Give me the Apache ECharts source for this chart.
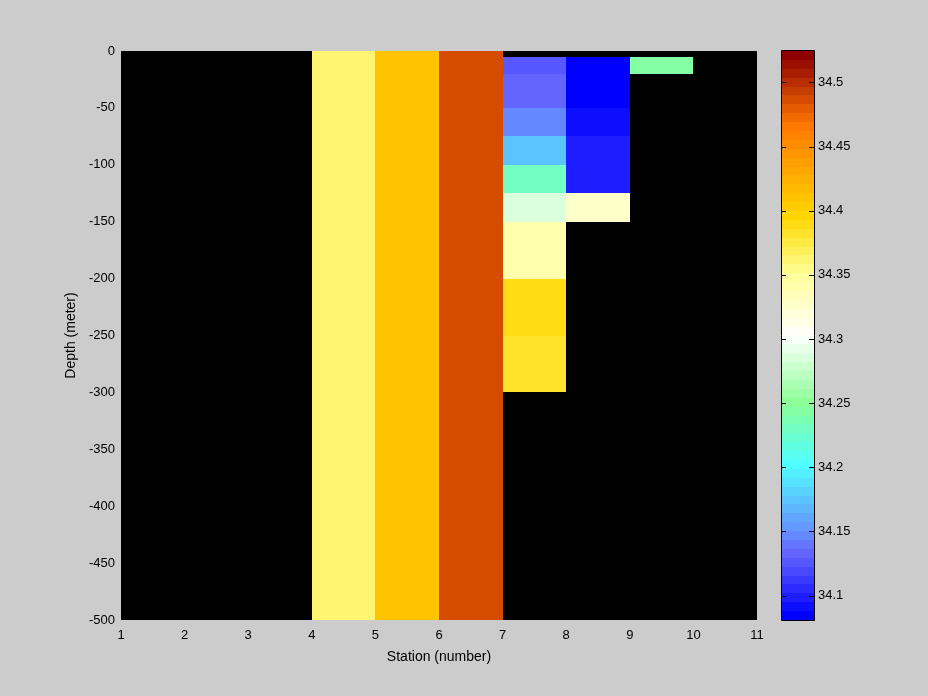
<!DOCTYPE html>
<html>
<head>
<meta charset="utf-8">
<script src="https://cdn.jsdelivr.net/npm/echarts@6/dist/echarts.min.js"></script>
<style>
html,body{margin:0;padding:0;background:#cccccc;}
#chart{width:928px;height:696px;}
</style>
</head>
<body>
<div id="chart"></div>
<script>
// ---- data ----
const stationTicks = [1, 2, 3, 4, 5, 6, 7, 8, 9, 10, 11];
const depthTicks = [0, -50, -100, -150, -200, -250, -300, -350, -400, -450, -500];
// each cell: station column start (column spans station..station+1), depth top, depth bottom (meters), salinity value
const cellStation = [4, 5, 6, 9, 8, 8, 8, 8, 7, 7, 7, 7, 7, 7, 7, 7, 7];
const cellTop     = [0, 0, 0, 5, 5, 50, 75, 125, 5, 20, 50, 75, 100, 125, 150, 200, 250];
const cellBottom  = [500, 500, 500, 20, 50, 75, 125, 150, 20, 50, 75, 100, 125, 150, 200, 250, 300];
const cellValue   = [34.363, 34.408, 34.488, 34.247, 34.083, 34.090, 34.097, 34.326,
                     34.128, 34.132, 34.146, 34.174, 34.229, 34.286, 34.344, 34.387, 34.381];
const colorMin = 34.081;
const colorMax = 34.5245;
const colorLevels = 64;
const colorbarTicks = [34.1, 34.15, 34.2, 34.25, 34.3, 34.35, 34.4, 34.45, 34.5];

// ---- colormap (style) ----
const cmapStops = [
  [0.000, [0, 0, 255]],
  [0.110, [100, 100, 255]],
  [0.156, [100, 150, 255]],
  [0.270, [80, 255, 255]],
  [0.380, [140, 255, 150]],
  [0.500, [255, 255, 255]],
  [0.610, [255, 255, 150]],
  [0.711, [255, 215, 0]],
  [0.875, [255, 120, 0]],
  [1.000, [140, 0, 0]]
];
function interp(f) {
  for (let i = 0; i < cmapStops.length - 1; i++) {
    const a = cmapStops[i], b = cmapStops[i + 1];
    if (f <= b[0]) {
      const t = (f - a[0]) / (b[0] - a[0]);
      const c = a[1].map((v, k) => Math.round(v + (b[1][k] - v) * t));
      return 'rgb(' + c.join(',') + ')';
    }
  }
  return 'rgb(' + cmapStops[cmapStops.length - 1][1].join(',') + ')';
}
const palette = [];
for (let i = 0; i < colorLevels; i++) palette.push(interp(i / (colorLevels - 1)));
function colorFor(v) {
  let idx = Math.floor((v - colorMin) / (colorMax - colorMin) * colorLevels);
  idx = Math.max(0, Math.min(colorLevels - 1, idx));
  return palette[idx];
}

const cellData = cellStation.map((s, i) => [s, s + 1, -cellTop[i], -cellBottom[i], cellValue[i]]);
const barStep = (colorMax - colorMin) / colorLevels;
const barData = palette.map((c, i) => [0, 1, colorMin + i * barStep, colorMin + (i + 1) * barStep, i]);

function rectItem(api, fill) {
  const p0 = api.coord([api.value(0), api.value(2)]);
  const p1 = api.coord([api.value(1), api.value(3)]);
  const x0 = Math.round(Math.min(p0[0], p1[0])), x1 = Math.round(Math.max(p0[0], p1[0]));
  const y0 = Math.round(Math.min(p0[1], p1[1])), y1 = Math.round(Math.max(p0[1], p1[1]));
  return {
    type: 'rect',
    shape: { x: x0, y: y0, width: x1 - x0, height: y1 - y0 },
    style: { fill: fill, stroke: null }
  };
}

const FONT = 'Liberation Sans';
const chart = echarts.init(document.getElementById('chart'), null, { renderer: 'canvas' });
chart.setOption({
  backgroundColor: '#cccccc',
  animation: false,
  textStyle: { fontFamily: FONT, color: '#000' },
  grid: [
    { left: 121, top: 51, width: 636, height: 569, show: true, backgroundColor: '#000000', borderWidth: 0 },
    { left: 782, top: 51, width: 32, height: 569, show: false }
  ],
  xAxis: [
    {
      gridIndex: 0, type: 'value', min: stationTicks[0], max: stationTicks[stationTicks.length - 1], interval: 1,
      name: 'Station (number)', nameLocation: 'middle', nameGap: 30,
      nameTextStyle: { fontSize: 14, fontFamily: FONT, color: '#000' },
      axisLine: { show: false }, axisTick: { show: false }, splitLine: { show: false },
      axisLabel: { fontSize: 13, fontFamily: FONT, color: '#000', margin: 9 }
    },
    { gridIndex: 1, type: 'value', min: 0, max: 1, show: false }
  ],
  yAxis: [
    {
      gridIndex: 0, type: 'value', min: depthTicks[depthTicks.length - 1], max: depthTicks[0], interval: 50,
      name: 'Depth (meter)', nameLocation: 'middle', nameGap: 41, nameRotate: 90,
      nameTextStyle: { fontSize: 14, fontFamily: FONT, color: '#000' },
      axisLine: { show: false }, axisTick: { show: false }, splitLine: { show: false },
      axisLabel: { fontSize: 13, fontFamily: FONT, color: '#000', margin: 6 }
    },
    {
      gridIndex: 1, type: 'value', min: colorMin, max: colorMax, splitNumber: 9, position: 'right',
      axisLine: { show: false }, axisTick: { show: false }, splitLine: { show: false },
      axisLabel: {
        fontSize: 13, fontFamily: FONT, color: '#000', margin: 4, showMinLabel: false, showMaxLabel: false,
        formatter: function (v) {
          const hit = colorbarTicks.some(t => Math.abs(t - v) < 1e-6);
          return hit ? String(+v.toFixed(2)) : '';
        }
      }
    }
  ],
  series: [
    {
      type: 'custom', xAxisIndex: 0, yAxisIndex: 0,
      encode: { x: [0, 1], y: [2, 3] },
      data: cellData,
      renderItem: function (params, api) { return rectItem(api, colorFor(api.value(4))); }
    },
    {
      type: 'custom', xAxisIndex: 1, yAxisIndex: 1, z: 2,
      encode: { x: [0, 1], y: [2, 3] },
      data: barData,
      renderItem: function (params, api) { return rectItem(api, palette[api.value(4)]); }
    },
    {
      // colorbar tick marks (both sides, pointing inward)
      type: 'custom', xAxisIndex: 1, yAxisIndex: 1, z: 5,
      encode: { y: 0 },
      data: colorbarTicks.map(v => [v]),
      renderItem: function (params, api) {
        const pl = api.coord([0, api.value(0)]);
        const pr = api.coord([1, api.value(0)]);
        const y = Math.round(pl[1]) + 0.5;
        const xl = Math.round(pl[0]), xr = Math.round(pr[0]);
        return {
          type: 'group',
          children: [
            { type: 'line', shape: { x1: xl, y1: y, x2: xl + 4, y2: y }, style: { stroke: '#000', lineWidth: 1 } },
            { type: 'line', shape: { x1: xr - 5, y1: y, x2: xr, y2: y }, style: { stroke: '#000', lineWidth: 1 } }
          ]
        };
      }
    },
    {
      // colorbar frame
      type: 'custom', xAxisIndex: 1, yAxisIndex: 1, z: 6,
      encode: { x: [0, 1], y: [2, 3] },
      data: [[0, 1, colorMin, colorMax]],
      renderItem: function (params, api) {
        const p0 = api.coord([api.value(0), api.value(3)]);
        const p1 = api.coord([api.value(1), api.value(2)]);
        const x0 = Math.round(p0[0]) - 0.5, y0 = Math.round(p0[1]) - 0.5;
        const x1 = Math.round(p1[0]) + 0.5, y1 = Math.round(p1[1]) + 0.5;
        return {
          type: 'rect',
          shape: { x: x0, y: y0, width: x1 - x0, height: y1 - y0 },
          style: { fill: null, stroke: '#000', lineWidth: 1 }
        };
      }
    }
  ]
});
</script>
</body>
</html>
